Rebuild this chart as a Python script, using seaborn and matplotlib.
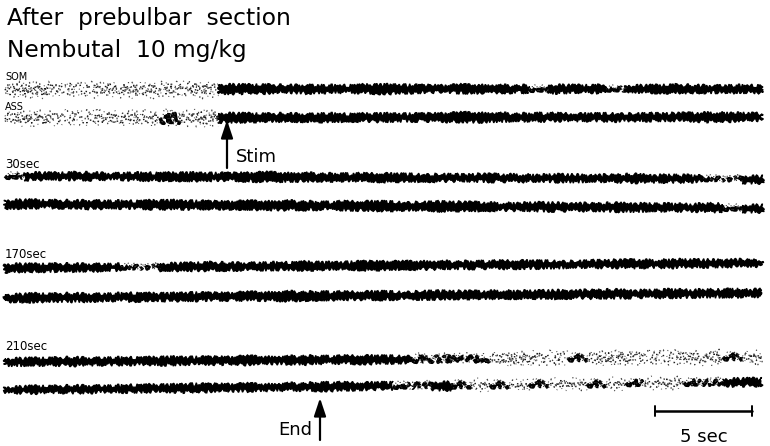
import numpy as np
import pandas as pd
import seaborn as sns
import matplotlib.pyplot as plt

sns.set_theme(style="white")
plt.rcParams["font.family"] = ["DejaVu Sans"]
plt.rcParams["text.color"] = "black"

# Recording: one amplitude envelope value (half-height, px) per 1-s bin,
# and an ink density per bin (1 = dense trace, 0.6 = broken, 0.3 = faint speckle)
bin_sec = np.arange(39) + 0.5

som_amp = [6, 7, 6, 7, 6, 6, 7, 7, 8, 9, 8,
           5, 4.5, 4.5, 4, 4.5, 4, 4, 4.5, 5, 4.5, 4, 4, 4.5, 4.5, 4, 4, 4,
           4.5, 4, 4, 3.5, 4, 4, 4.5, 4, 4, 4, 4]
som_ink = [0.3] * 11 + [1] * 16 + [0.6] + [1] * 3 + [0.6] + [1] * 7

ass_amp = [6, 6, 5, 6, 6, 7, 7, 8, 9, 7, 8,
           5, 4.5, 4, 4.5, 4, 4.5, 4, 4, 4.5, 4, 4, 4.5, 5, 5, 4.5, 4, 4.5,
           4, 4, 4, 4.5, 4, 4, 4, 4.5, 5, 4.5, 4]
ass_ink = [0.3] * 8 + [0.6] + [0.3] * 2 + [1] * 28

s30_som_amp = [4, 4, 3.5, 4, 4, 3.5, 4, 4, 4, 4.5, 4, 4, 4.5, 5, 4.5, 4.5, 4,
               4, 4, 4.5, 4, 4, 4, 3.5, 4, 4, 4, 3.5, 4, 4, 3.5, 4, 4.5, 4,
               4, 3.5, 3.5, 3, 3.5]
s30_som_ink = [0.6] + [1] * 35 + [0.6, 0.6, 1]

s30_ass_amp = [4.5, 4.5, 4, 4, 4.5, 4, 4, 4.5, 5, 4.5, 4, 4, 4.5, 4.5, 5, 4.5,
               4, 4.5, 5, 5, 4.5, 4.5, 5, 4.5, 4.5, 4, 4, 4.5, 4.5, 4, 4, 4.5,
               4.5, 4, 4, 4, 4.5, 4, 3.5]
s30_ass_ink = [1] * 37 + [0.6, 1]

s170_som_amp = [4.5, 4, 4, 4, 4, 3.5, 3.5, 3, 4, 4, 4.5, 4, 4, 4, 4, 4.5, 4,
                4, 4.5, 4.5, 4, 4.5, 4, 4, 4, 4, 4.5, 4, 4, 3.5, 4, 4, 4.5, 4,
                4.5, 4, 4, 4, 3.5]
s170_som_ink = [1] * 6 + [0.6, 0.6] + [1] * 31

s170_ass_amp = [4, 4.5, 4, 4.5, 4, 4, 4.5, 4, 4, 4.5, 4, 4, 4.5, 4.5, 5, 4.5,
                4.5, 4, 4.5, 4.5, 4, 4.5, 4.5, 4, 4, 4.5, 4, 4, 4.5, 4, 4.5,
                4.5, 4, 4, 4.5, 4, 4, 4.5, 4]
s170_ass_ink = [1] * 39

s210_som_amp = [4, 4, 4, 4.5, 4, 4, 4, 4, 4.5, 4, 4, 4, 4.5, 4, 4, 4.5, 4, 4,
                4.5, 4, 4, 5, 5, 5.5, 5.5, 6, 7, 7, 6, 5, 7, 7, 6, 7, 6, 6, 7,
                5, 6]
s210_som_ink = [1] * 21 + [0.6] * 4 + [0.3] * 4 + [0.6] + [0.3] * 7 + [0.6, 0.3]

s210_ass_amp = [3.5, 4, 3.5, 4, 4, 3.5, 4, 4, 4, 4.5, 4, 4, 4, 3.5, 4, 4,
                4.5, 4, 4, 4, 4, 4.5, 4.5, 5, 5, 5, 4.5, 5, 5, 4.5, 5, 5, 4.5,
                5, 5, 4.5, 4.5, 4, 4]
s210_ass_ink = ([1] * 20 + [0.6, 0.6, 1, 0.6, 0.3, 0.6, 0.3, 0.6, 0.3, 0.3,
                0.6, 0.3, 0.6, 0.3, 0.3, 0.6, 0.6, 1, 1])

# Page layout (pixels on the y axis, seconds on the x axis)
PX_PER_SEC = 19.4
traces = [
    ("SOM", som_amp, som_ink, 89, 89),
    ("ASS", ass_amp, ass_ink, 118, 117),
    ("30sec", s30_som_amp, s30_som_ink, 176, 179),
    ("30sec ASS", s30_ass_amp, s30_ass_ink, 204, 208),
    ("170sec", s170_som_amp, s170_som_ink, 268, 263),
    ("170sec ASS", s170_ass_amp, s170_ass_ink, 298, 293),
    ("210sec", s210_som_amp, s210_som_ink, 362, 357),
    ("210sec ASS", s210_ass_amp, s210_ass_ink, 390, 382),
]

fig = plt.figure(figsize=(7.7, 4.46), dpi=100)
ax = fig.add_axes([0, 0, 1, 1])
ax.set_xlim(-5 / PX_PER_SEC, 765 / PX_PER_SEC)
ax.set_ylim(446, 0)
ax.axis("off")


def runs(ink):
    start = 0
    for i in range(1, len(ink) + 1):
        if i == len(ink) or ink[i] != ink[start]:
            yield start, i, ink[start]
            start = i


def sketch_line(t, y, color, lw, sketch, dashes=None):
    df = pd.DataFrame({"t": t, "y": y})
    sns.lineplot(data=df, x="t", y="y", ax=ax, color=color, lw=lw,
                 estimator=None, sort=False, legend=False)
    line = ax.lines[-1]
    line.set_sketch_params(*sketch)
    if dashes is not None:
        line.set_dashes(dashes)
    return line


for name, amp, ink, y0, y1 in traces:
    amp = np.asarray(amp, float)
    base = y0 + (y1 - y0) * bin_sec / 39.0
    for a, b, level in runs(ink):
        t = np.concatenate([[bin_sec[a] - 0.5], bin_sec[a:b], [bin_sec[b - 1] + 0.5]])
        m = np.concatenate([[base[a]], base[a:b], [base[b - 1]]])
        h = np.concatenate([[amp[a]], amp[a:b], [amp[b - 1]]])
        if level >= 1:
            core = np.maximum(h - 0.9, 1.0)
            poly = ax.fill(np.r_[t, t[::-1]], np.r_[m - core, (m + core)[::-1]],
                           facecolor="black", edgecolor="black", lw=1.0)[0]
            poly.set_sketch_params(1.8, 1.6, 10.0)
        elif level >= 0.5:
            # broken trace: heavy jagged strokes with small gaps
            sketch_line(t, m, "black", 2.6, (h.mean() * 0.6, 1.5, 10.0),
                        dashes=(2.5, 1.0, 1.0, 1.2))
            sketch_line(t, m - 1, "#333333", 0.9, (h.mean(), 2.0, 12.0),
                        dashes=(0.8, 2.2))
        else:
            # faint speckled trace: scattered short strokes around the baseline
            sketch_line(t, m, "#1a1a1a", 1.1, (h.mean() * 0.8, 1.5, 14.0),
                        dashes=(0.9, 3.1))
            sketch_line(t, m - 2.5, "#444444", 0.9, (h.mean() * 0.9, 2.5, 10.0),
                        dashes=(0.7, 5.3, 1.4, 4.0))
            sketch_line(t, m + 2.5, "#444444", 0.9, (h.mean() * 0.9, 2.0, 12.0),
                        dashes=(1.2, 4.6, 0.6, 6.0))


def sec(px):
    return (px - 5) / PX_PER_SEC


# Headings
ax.text(sec(7), 18, "After  prebulbar  section", fontsize=16.8, va="center", ha="left")
ax.text(sec(7), 51, "Nembutal  10 mg/kg", fontsize=16.8, va="center", ha="left")

# Channel and time labels
ax.text(sec(5), 77, "SOM", fontsize=7, va="center", ha="left")
ax.text(sec(5), 107, "ASS", fontsize=7, va="center", ha="left")
for label, y in [("30sec", 165), ("170sec", 255), ("210sec", 347)]:
    ax.text(sec(5), y, label, fontsize=8.5, va="center", ha="left")

# Stimulus markers
for x_px, y_tail, y_tip in [(227, 168, 120), (320, 440, 398)]:
    ax.annotate("", xy=(sec(x_px), y_tip), xytext=(sec(x_px), y_tail),
                arrowprops=dict(arrowstyle="-|>,head_length=0.9,head_width=0.3",
                                color="black", lw=1.6, shrinkA=0, shrinkB=0))
ax.text(sec(236), 157, "Stim", fontsize=13, va="center", ha="left")
ax.text(sec(312), 430, "End", fontsize=13, va="center", ha="right")

# Time scale bar (5 s)
bar = pd.DataFrame({"t": [sec(655), sec(655) + 5.0], "y": [411, 411]})
sns.lineplot(data=bar, x="t", y="y", ax=ax, color="black", lw=1.8,
             estimator=None, legend=False)
for tx in bar["t"]:
    ax.plot([tx, tx], [406, 416], color="black", lw=1.4)
ax.text(bar["t"].mean(), 437, "5 sec", fontsize=13, va="center", ha="center")

ax.set_xlabel("")
ax.set_ylabel("")
fig.savefig("out.png", dpi=100, facecolor="white")
